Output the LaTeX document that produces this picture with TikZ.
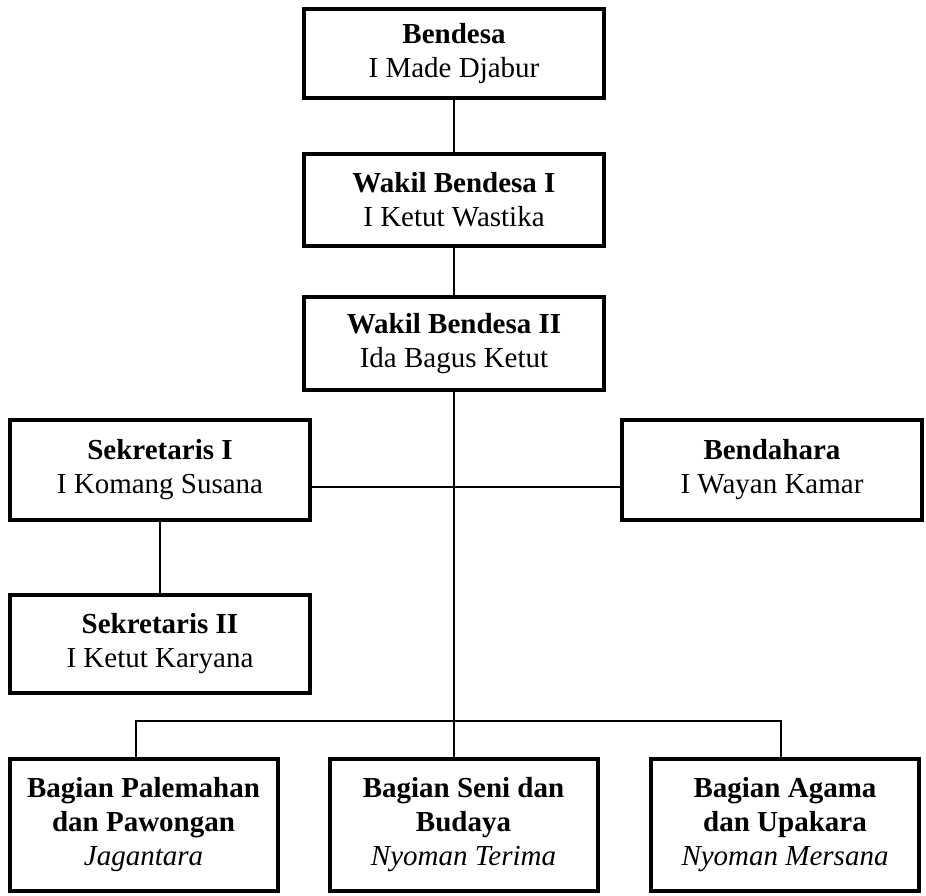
\documentclass[tikz,border=0pt]{standalone}
\usepackage{fontspec}
\setmainfont{Liberation Serif}
\begin{document}
\begin{tikzpicture}[x=1pt,y=-1pt,
    box/.style={draw,line width=4pt,fill=white,align=center,inner sep=0pt,
      minimum width=300pt,font=\fontsize{29}{34}\selectfont},
    unit/.style={box,minimum width=268pt,minimum height=132pt},
    link/.style={line width=1.8pt}]
  \useasboundingbox (0,0) rectangle (926,895);
  % pimpinan
  \node[box,minimum height=89pt] (bendesa) at (454,53.5) {\textbf{Bendesa}\\I Made Djabur};
  \node[box,minimum height=92pt] (wakilA)  at (454,200)  {\textbf{Wakil Bendesa I}\\I Ketut Wastika};
  \node[box,minimum height=93pt] (wakilB)  at (454,343.5) {\textbf{Wakil Bendesa II}\\Ida Bagus Ketut};
  % sekretaris dan bendahara
  \node[box,minimum height=100pt] (sekA)      at (160,470) {\textbf{Sekretaris I}\\I Komang Susana};
  \node[box,minimum height=100pt] (bendahara) at (772,470) {\textbf{Bendahara}\\I Wayan Kamar};
  \node[box,minimum height=98pt]  (sekB)      at (160,644) {\textbf{Sekretaris II}\\I Ketut Karyana};
  % bagian
  \node[unit] (palemahan) at (143.5,825) {\textbf{Bagian Palemahan}\\\textbf{dan Pawongan}\\\textit{Jagantara}};
  \node[unit] (seni)      at (463.5,825) {\textbf{Bagian Seni dan}\\\textbf{Budaya}\\\textit{Nyoman Terima}};
  \node[unit] (agama)     at (785,825)   {\textbf{Bagian Agama}\\\textbf{dan Upakara}\\\textit{Nyoman Mersana}};
  % garis
  \coordinate (cross) at (454,487);
  \coordinate (busL) at (136,721);
  \coordinate (busR) at (781,721);
  \draw[link] (bendesa) -- (wakilA);
  \draw[link] (wakilA) -- (wakilB);
  \draw[link] (wakilB.south) -- (wakilB.south |- seni.north);
  \draw[link] (sekA.east |- cross) -- (bendahara.west |- cross);
  \draw[link] (sekA) -- (sekB);
  \draw[link] (busL |- palemahan.north) -- (busL) -- (busR) -- (busR |- agama.north);
\end{tikzpicture}
\end{document}
